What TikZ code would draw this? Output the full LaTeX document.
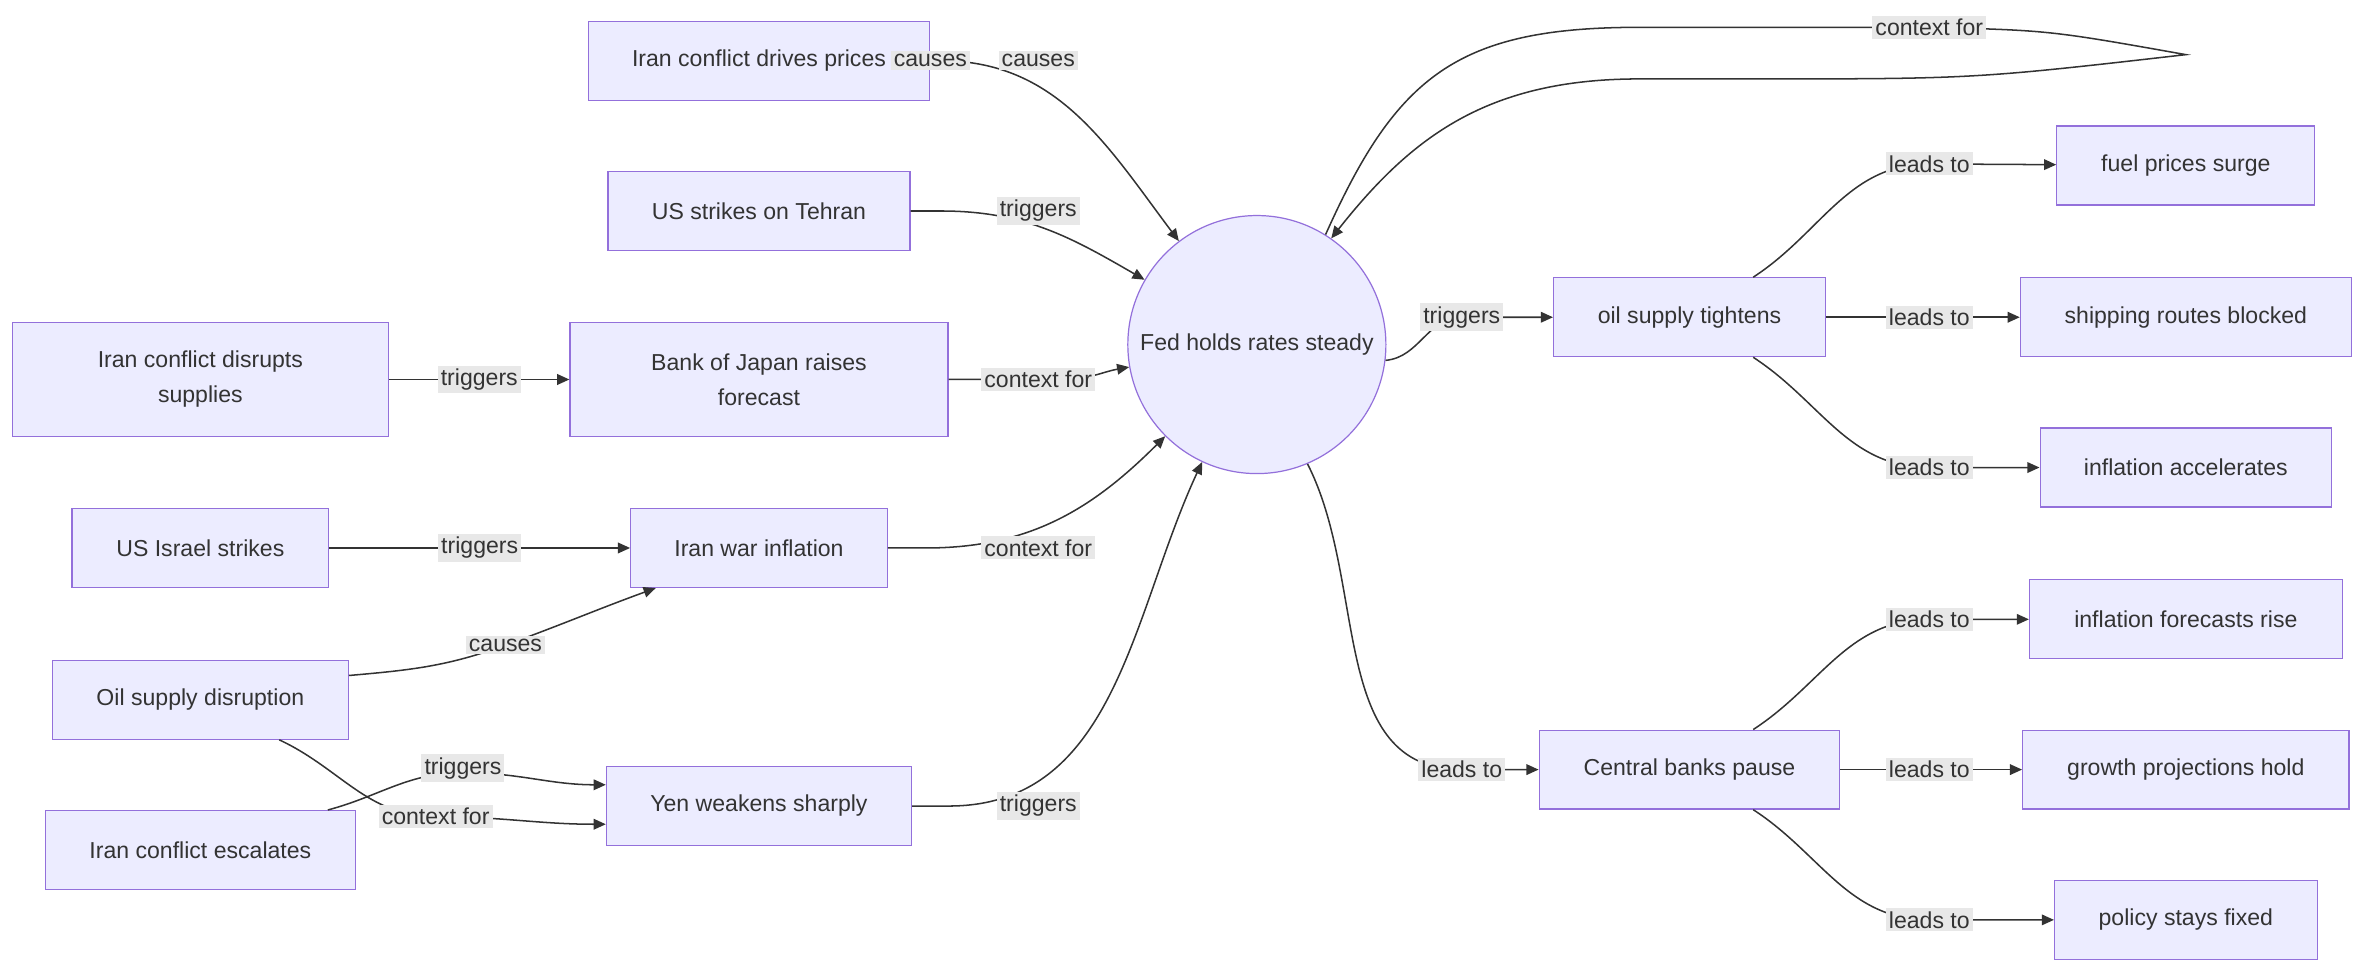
\documentclass[tikz,border=0pt]{standalone}
\usepackage{fontspec}
\setmainfont{Liberation Sans}
\usetikzlibrary{arrows.meta}
\definecolor{boxfill}{HTML}{ECECFF}
\definecolor{boxline}{HTML}{9370DB}
\definecolor{lblfill}{HTML}{E8E8E8}
\definecolor{ink}{HTML}{333333}
\tikzset{
  box/.style={draw=boxline,fill=boxfill,rectangle,inner sep=0pt,align=center,font=\fontsize{7.6}{11.5}\selectfont,text=ink},
  hub/.style={draw=boxline,fill=boxfill,circle,minimum size=85pt,inner sep=0pt,font=\fontsize{7.6}{9}\selectfont,text=ink},
  lbl/.style={fill=lblfill,inner sep=1pt,font=\fontsize{7.6}{9}\selectfont,text=ink},
  link/.style={draw=ink,-{Triangle[length=4pt,width=3.5pt]},line width=0.5pt},
}
\begin{document}
\begin{tikzpicture}[x=0.5pt,y=-0.5pt]
  \useasboundingbox (0,0) rectangle (1560,642);
  % left column
  \node[box,minimum width=124pt,minimum height=37.5pt] (icd) at (132,250) {Iran conflict disrupts\\supplies};
  \node[box,minimum width=84.5pt,minimum height=26pt] (usi) at (132,361) {US Israel strikes};
  \node[box,minimum width=97.5pt,minimum height=26pt] (osd) at (132,461) {Oil supply disruption};
  \node[box,minimum width=102pt,minimum height=26pt] (ice) at (132,560) {Iran conflict escalates};
  % middle column
  \node[box,minimum width=112.5pt,minimum height=26pt] (icp) at (500,40) {Iran conflict drives prices};
  \node[box,minimum width=99.5pt,minimum height=26pt] (ust) at (500,139) {US strikes on Tehran};
  \node[box,minimum width=124.5pt,minimum height=37.5pt] (boj) at (500,250) {Bank of Japan raises\\forecast};
  \node[box,minimum width=84.5pt,minimum height=26pt] (iwi) at (500,361) {Iran war inflation};
  \node[box,minimum width=100.5pt,minimum height=26pt] (yws) at (500,531) {Yen weakens sharply};
  % hub
  \node[hub] (fed) at (828,227) {Fed holds rates steady};
  % right side
  \node[box,minimum width=89.5pt,minimum height=26pt] (ost) at (1113,209) {oil supply tightens};
  \node[box,minimum width=99pt,minimum height=26pt] (cbp) at (1113,507) {Central banks pause};
  \node[box,minimum width=85pt,minimum height=26pt] (fps) at (1440,109) {fuel prices surge};
  \node[box,minimum width=109pt,minimum height=26pt] (srb) at (1440,209) {shipping routes blocked};
  \node[box,minimum width=96pt,minimum height=26pt] (ia) at (1440,308) {inflation accelerates};
  \node[box,minimum width=103pt,minimum height=26pt] (ifr) at (1440,408) {inflation forecasts rise};
  \node[box,minimum width=107.5pt,minimum height=26pt] (gph) at (1440,507) {growth projections hold};
  \node[box,minimum width=86.5pt,minimum height=26pt] (psf) at (1440,606) {policy stays fixed};
  \coordinate (loop) at (1440,36);

  % edges into the hub
  \draw[link] (icp.east) -- (620,40) to[out=0,in=127] (fed.127) node[lbl,pos=0] at (684,40) {causes};
  \draw[link] (ust.east) -- (620,139) to[out=0,in=150] (fed.150);
  \node[lbl] at (684,139) {triggers};
  \node[lbl] at (684,40) {causes};
  \draw[link] (icd) -- node[lbl] {triggers} (boj);
  \draw[link] (boj.east) -- (700,250) to[out=0,in=190] (fed.190);
  \node[lbl] at (684,250) {context for};
  \draw[link] (usi) -- node[lbl] {triggers} (iwi);
  \draw[link] (iwi.east) -- (610,361) to[out=0,in=225] (fed.225);
  \node[lbl] at (684,361) {context for};
  \draw[link] (osd.east) ++(0,-16) to[out=5,in=200] (333,425) to[out=20,in=200] ([xshift=-34pt]iwi.south);
  \node[lbl] at (333,425) {causes};
  \draw[link] (osd.south) ++(52,0) to[out=-25,in=180] (287,538) to[out=0,in=180] ([yshift=-6pt]yws.west);
  \draw[link] (ice.north) ++(84,0) to[out=15,in=180] (305,509) to[out=0,in=180] ([yshift=7pt]yws.west);
  \node[lbl] at (305,506) {triggers};
  \node[lbl] at (287,538) {context for};
  \draw[link] (yws.east) -- (625,531) to[out=0,in=245] (fed.245);
  \node[lbl] at (684,531) {triggers};
  % hub outputs
  \draw[link] (fed.-7) to[out=5,in=180] (963,209) -- (ost);
  \node[lbl] at (963,209) {triggers};
  \draw[link] (fed.-67) to[out=-63,in=180] (963,507) -- (cbp);
  \node[lbl] at (963,507) {leads to};
  \draw[link] (fed.58) .. controls (920,50) and (960,18) .. (1080,18) -- (1271,18) .. controls (1350,20) .. (loop)
    .. controls (1300,52) .. (1150,52) -- (1080,52) .. controls (980,52) and (930,90) .. (fed.55);
  \node[lbl] at (1271,18) {context for};
  % oil supply and central bank fan-out
  \draw[link] ([xshift=21pt]ost.north) to[out=33,in=180] (1271,108) -- (fps);
  \draw[link] (ost) -- (srb);
  \draw[link] ([xshift=21pt]ost.south) to[out=-33,in=180] (1271,308) -- (ia);
  \draw[link] ([xshift=21pt]cbp.north) to[out=33,in=180] (1271,408) -- (ifr);
  \draw[link] (cbp) -- (gph);
  \draw[link] ([xshift=21pt]cbp.south) to[out=-33,in=180] (1271,606) -- (psf);
  \foreach \y in {108,209,308,408,507,606}
    \node[lbl] at (1271,\y) {leads to};
\end{tikzpicture}
\end{document}
